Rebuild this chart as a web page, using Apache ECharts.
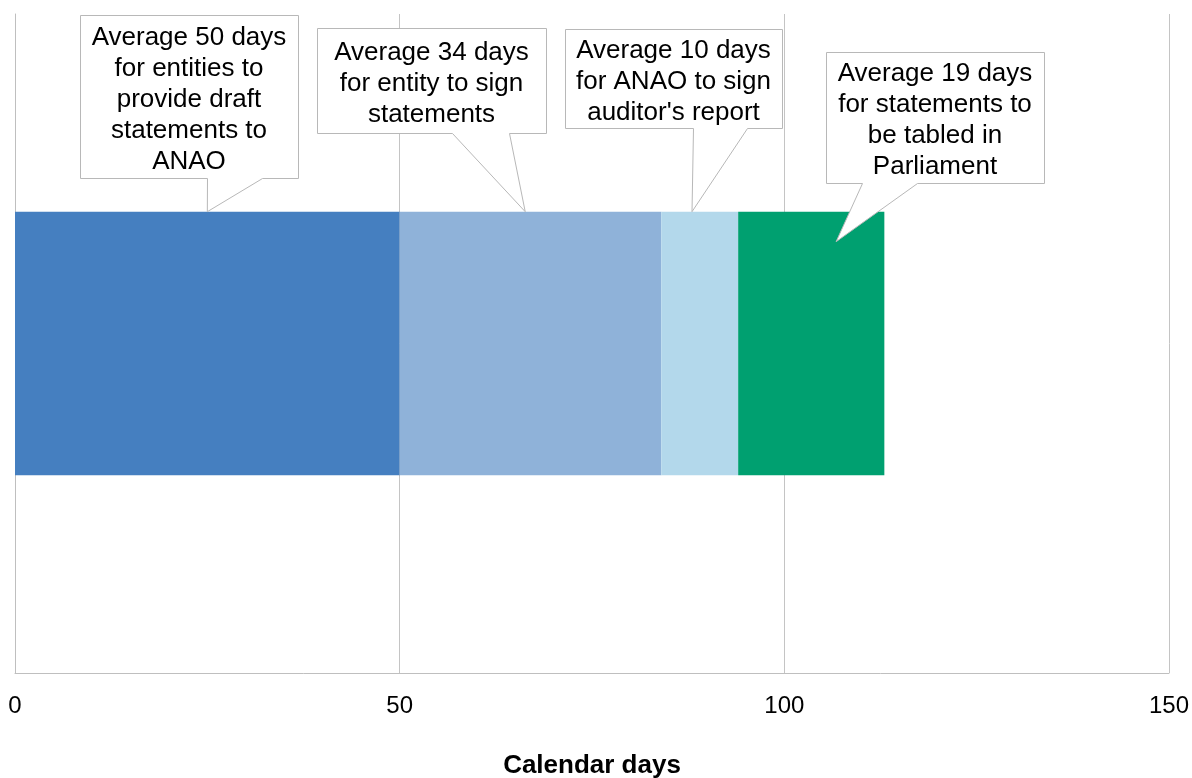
<!DOCTYPE html>
<html>
<head>
<meta charset="utf-8">
<title>Average time to table financial statements</title>
<script src="https://cdn.jsdelivr.net/npm/echarts@6/dist/echarts.min.js"></script>
<style>
  html, body { margin: 0; padding: 0; background: #ffffff; overflow: hidden; }
  #chart { width: 1192px; height: 778px; }
</style>
</head>
<body>
<div id="chart"></div>
<script>
// Single bar, stacked by reporting stage
const categories = ['Reporting timeline'];
const stageNames = [
  'Entity provides draft statements',
  'Entity signs statements',
  'ANAO signs auditor\'s report',
  'Statements tabled in Parliament'
];
const stageDays = [50, 34, 10, 19];
const stageColors = ['#457fc0', '#8fb2d9', '#b3d8eb', '#00a070'];
const calloutTexts = [
  'Average 50 days\nfor entities to\nprovide draft\nstatements to\nANAO',
  'Average 34 days\nfor entity to sign\nstatements',
  'Average 10 days\nfor ANAO to sign\nauditor\'s report',
  'Average 19 days\nfor statements to\nbe tabled in\nParliament'
];
const xTicks = { min: 0, max: 150, interval: 50 };

// Callout box layout: box corners, pointer base on the box's bottom edge,
// where along the stage the pointer lands (0..1) and how far into the bar.
const calloutLayout = [
  { x0: 80,  y0: 15, x1: 298,  y1: 178, baseL: 207, baseR: 262, along: 0.5,  dip: 0 },
  { x0: 317, y0: 28, x1: 546,  y1: 133, baseL: 452, baseR: 509, along: 0.48, dip: 0 },
  { x0: 565, y0: 29, x1: 782,  y1: 128, baseL: 693, baseR: 747, along: 0.4,  dip: 0 },
  { x0: 826, y0: 52, x1: 1044, y1: 183, baseL: 862, baseR: 917, along: 0.67, dip: 30 }
];

const FONT = '"Liberation Sans", Arial, Helvetica, sans-serif';
const chart = echarts.init(document.getElementById('chart'), null, { renderer: 'canvas' });

const series = stageNames.map((name, i) => ({
  name: name,
  type: 'bar',
  stack: 'timeline',
  barWidth: '40%',
  itemStyle: { color: stageColors[i] },
  emphasis: { disabled: true },
  data: [stageDays[i]]
}));

chart.setOption({
  animation: false,
  backgroundColor: '#ffffff',
  grid: { left: 15, top: 14, width: 1154, height: 659, containLabel: false, outerBoundsMode: 'none' },
  xAxis: {
    type: 'value',
    min: xTicks.min,
    max: xTicks.max,
    interval: xTicks.interval,
    name: 'Calendar days',
    nameLocation: 'middle',
    nameGap: 80,
    nameTextStyle: { fontFamily: FONT, fontSize: 26, fontWeight: 'bold', color: '#000000' },
    axisLine: { show: true, lineStyle: { color: '#bfbfbf', width: 1 } },
    axisTick: { show: false },
    axisLabel: { fontFamily: FONT, fontSize: 24, color: '#000000', margin: 21 },
    splitLine: { show: true, lineStyle: { color: '#c4c4c4', width: 1 } }
  },
  yAxis: {
    type: 'category',
    data: categories,
    axisLine: { show: true, lineStyle: { color: '#bfbfbf', width: 1 } },
    axisTick: { show: false },
    axisLabel: { show: false },
    splitLine: { show: false }
  },
  series: series
});

// Callouts: pointer tips follow the stacked bar through the chart's scales
function buildCallouts() {
  const yAxisModel = chart.getModel().getComponent('yAxis', 0);
  const band = yAxisModel.axis.getBandWidth();
  const barHalf = band * 0.4 / 2;
  const elements = [];
  let start = 0;
  stageDays.forEach((days, i) => {
    const lay = calloutLayout[i];
    const tipValue = start + days * lay.along;
    const tip = chart.convertToPixel({ gridIndex: 0 }, [tipValue, categories[0]]);
    const tipX = tip[0];
    const tipY = tip[1] - barHalf + lay.dip;
    start += days;

    elements.push({
      type: 'polygon',
      z: 100,
      shape: {
        points: [
          [lay.x0 + 0.5, lay.y0 + 0.5],
          [lay.x1 + 0.5, lay.y0 + 0.5],
          [lay.x1 + 0.5, lay.y1 + 0.5],
          [lay.baseR + 0.5, lay.y1 + 0.5],
          [tipX, tipY],
          [lay.baseL + 0.5, lay.y1 + 0.5],
          [lay.x0 + 0.5, lay.y1 + 0.5]
        ]
      },
      style: { fill: '#ffffff', stroke: '#b8b8b8', lineWidth: 1 }
    });
    elements.push({
      type: 'text',
      z: 101,
      x: (lay.x0 + lay.x1) / 2,
      y: (lay.y0 + lay.y1) / 2 + 3,
      style: {
        text: calloutTexts[i],
        fontFamily: FONT,
        fontSize: 26,
        lineHeight: 31,
        fill: '#000000',
        align: 'center',
        verticalAlign: 'middle'
      }
    });
  });
  chart.setOption({ graphic: { elements: elements } });
}
buildCallouts();
</script>
</body>
</html>
